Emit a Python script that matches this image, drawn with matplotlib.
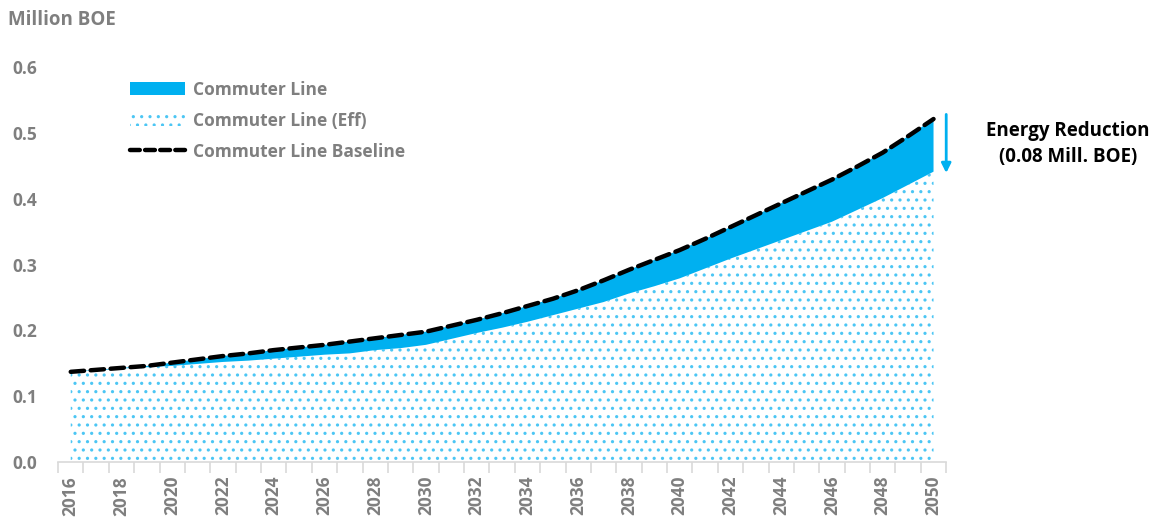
import matplotlib.pyplot as plt
from matplotlib.patches import Patch
from matplotlib.lines import Line2D

plt.rcParams['font.family'] = ['Open Sans', 'DejaVu Sans']
plt.rcParams['hatch.linewidth'] = 1.1

# energy use of the commuter line, million BOE
years = list(range(2016, 2051))
baseline = [0.137, 0.140, 0.143, 0.146, 0.151, 0.156, 0.161, 0.165, 0.170, 0.174,
            0.178, 0.183, 0.188, 0.193, 0.198, 0.207, 0.216, 0.226, 0.237, 0.248,
            0.261, 0.276, 0.292, 0.307, 0.322, 0.339, 0.357, 0.375, 0.393, 0.411,
            0.429, 0.449, 0.470, 0.495, 0.521]
eff = [0.137, 0.139, 0.142, 0.144, 0.146, 0.149, 0.152, 0.154, 0.157, 0.160,
       0.163, 0.165, 0.170, 0.173, 0.178, 0.187, 0.196, 0.204, 0.213, 0.223,
       0.233, 0.243, 0.256, 0.267, 0.279, 0.294, 0.309, 0.323, 0.337, 0.351,
       0.365, 0.383, 0.401, 0.421, 0.441]
reduction = 0.08
yticks = [0.0, 0.1, 0.2, 0.3, 0.4, 0.5, 0.6]

blue = '#00b0f0'
dots = '#4cc6f4'
grey = '#7f7f7f'

fig = plt.figure(figsize=(11.61, 5.21), dpi=100)
ax = fig.add_axes([0.05, 0.1132, 0.765, 0.7582])

# efficient case at the bottom, the savings stacked on top of it
ax.fill_between(years, 0, eff, facecolor='white', edgecolor=dots, hatch='..',
                linewidth=0)
ax.fill_between(years, eff, baseline, facecolor=blue, linewidth=0)
ax.plot(years, baseline, color='black', lw=3.2, linestyle=(0, (3.0, 1.5)),
        dash_capstyle='round')

ax.set_xlim(2015.5, 2050.5)
ax.set_ylim(0, 0.6)
ax.set_yticks(yticks)
ax.set_yticklabels([f'{v:.1f}' for v in yticks])
ax.set_xticks(years[::2])
ax.set_xticklabels([str(y) for y in years[::2]], rotation=90)
ax.set_xticks([y - 0.5 for y in years] + [2050.5], minor=True)
ax.tick_params(axis='x', which='major', length=0, pad=10)
ax.tick_params(axis='x', which='minor', length=8, width=1.2, color='#d9d9d9')
ax.tick_params(axis='y', length=0, pad=15)
for lab in ax.get_xticklabels() + ax.get_yticklabels():
    lab.set_fontweight('bold')
    lab.set_color(grey)
    lab.set_fontsize(12.5)

for s in ['top', 'right', 'left']:
    ax.spines[s].set_visible(False)
ax.spines['bottom'].set_color('#d9d9d9')
ax.spines['bottom'].set_linewidth(1.2)

fig.text(0.007, 0.962, 'Million BOE', fontsize=13.5, fontweight='bold', color=grey,
         va='center')

handles = [
    Patch(facecolor=blue, edgecolor='none'),
    Patch(facecolor='white', edgecolor=dots, linewidth=0, hatch='..'),
    Line2D([], [], color='black', lw=3.2, linestyle=(0, (2.2, 1.2)),
           dash_capstyle='round'),
]
labels = ['Commuter Line', 'Commuter Line (Eff)', 'Commuter Line Baseline']
leg = ax.legend(handles, labels, loc='upper left', bbox_to_anchor=(0.063, 1.005),
                frameon=False, handlelength=3.2, handleheight=0.8,
                labelspacing=0.75, handletextpad=0.45,
                prop={'weight': 'bold', 'size': 12.5})
for t in leg.get_texts():
    t.set_color(grey)

# savings arrow at the end of the period
ax.annotate('', xy=(2050.5, eff[-1] - 0.002), xytext=(2050.5, baseline[-1] + 0.007),
            arrowprops=dict(arrowstyle='-|>', color=blue, lw=2,
                            mutation_scale=14, shrinkA=0, shrinkB=0),
            annotation_clip=False)
fig.text(0.92, 0.723, f'Energy Reduction\n({reduction:.2f} Mill. BOE)',
         ha='center', va='center', fontsize=13.5, fontweight='bold',
         color='black', linespacing=1.4)

fig.savefig('out.png', dpi=100)
